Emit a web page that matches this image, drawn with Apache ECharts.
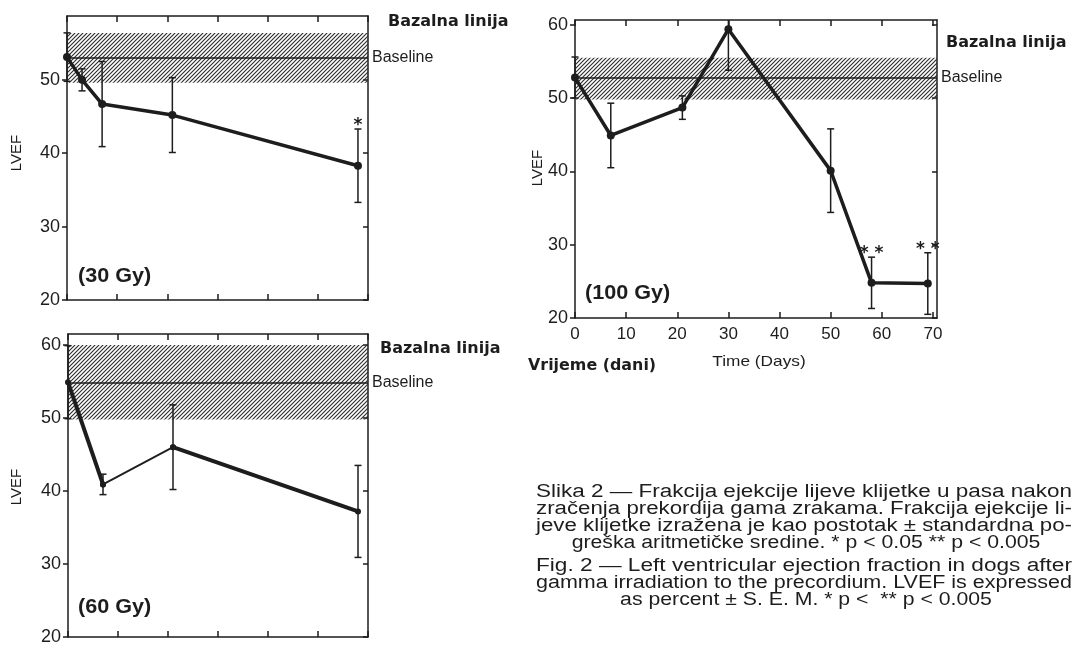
<!DOCTYPE html>
<html>
<head>
<meta charset="utf-8">
<script src="https://cdn.jsdelivr.net/npm/echarts@6/dist/echarts.min.js"></script>
<style>
html, body { margin: 0; padding: 0; background: #fff; }
#chart { width: 1075px; height: 646px; }
</style>
</head>
<body>
<div id="chart"></div>
<script>
// 30 Gy panel (top left)
const days30 = [0, 3, 7, 21, 58];
const lvef30 = [53.1, 50.0, 46.7, 45.2, 38.3];
const sem30 = [3.3, 1.5, 5.8, 5.1, 5.0];
const sig30 = ['', '', '', '', '*'];
const base30 = [49.6, 53.0, 56.4]; // low, baseline, high

// 60 Gy panel (bottom left)
const days60 = [0, 7, 21, 58];
const lvef60 = [54.9, 40.9, 46.0, 37.2];
const sem60 = [5.0, 1.4, 5.8, 6.3];
const sig60 = ['', '', '', ''];
const base60 = [49.8, 54.8, 60.0];

// 100 Gy panel (right)
const days100 = [0, 7, 21, 30, 50, 58, 69];
const lvef100 = [52.8, 44.9, 48.7, 59.4, 40.1, 24.8, 24.7];
const sem100 = [2.8, 4.4, 1.6, 5.6, 5.7, 3.5, 4.2];
const sig100 = ['', '', '', '', '', '**', '**'];
const base100 = [49.8, 52.8, 55.5];

// tick values
const xTicksLeft = [0, 10, 20, 30, 40, 50, 60];
const xTicksRight = [0, 10, 20, 30, 40, 50, 60, 70];
const yTicks30 = [20, 30, 40, 50];
const yTicks = [20, 30, 40, 50, 60];

const captionHr = [
    'Slika 2 — Frakcija ejekcije lijeve klijetke u pasa nakon',
    'zračenja prekordija gama zrakama. Frakcija ejekcije li-',
    'jeve klijetke izražena je kao postotak ± standardna po-',
    'greška aritmetičke sredine. * p < 0.05 ** p < 0.005'
];
const captionEn = [
    'Fig. 2 — Left ventricular ejection fraction in dogs after',
    'gamma irradiation to the precordium. LVEF is expressed',
    'as percent ± S. E. M. * p <  ** p < 0.005'
];

const ink = '#1d1d1d';
const sans = '"Liberation Sans", Arial, sans-serif';
const round = '"DejaVu Sans", sans-serif';

function hatch() {
    const c = document.createElement('canvas');
    c.width = 4; c.height = 4;
    const g = c.getContext('2d');
    g.strokeStyle = '#2e2e2e';
    g.lineWidth = 1.15;
    g.beginPath();
    g.moveTo(0, 4); g.lineTo(4, 0);
    g.moveTo(-1, 1); g.lineTo(1, -1);
    g.moveTo(3, 5); g.lineTo(5, 3);
    g.stroke();
    return c;
}
const hatchFill = { image: hatch(), repeat: 'repeat' };

function xAxes(i, xMax, ticks, showLabels) {
    const common = {
        gridIndex: i, type: 'value', min: 0, max: xMax, interval: 10,
        axisLine: { show: true, onZero: false, lineStyle: { color: ink, width: 1.5 } },
        axisTick: { show: true, inside: true, length: 6, customValues: ticks, lineStyle: { color: ink, width: 1.5 } },
        splitLine: { show: false }
    };
    return [
        Object.assign({}, common, {
            position: 'bottom',
            axisLabel: { show: showLabels, customValues: ticks, color: ink, fontSize: 17, fontFamily: sans, margin: 8 }
        }),
        Object.assign({}, common, { position: 'top', axisLabel: { show: false } })
    ];
}

function yAxes(i, yMax, ticks) {
    const common = {
        gridIndex: i, type: 'value', min: 20, max: yMax, interval: 10,
        axisLine: { show: true, onZero: false, lineStyle: { color: ink, width: 1.5 } },
        splitLine: { show: false }
    };
    return [
        Object.assign({}, common, {
            position: 'left',
            axisTick: { show: true, inside: false, length: 5, customValues: ticks, lineStyle: { color: ink, width: 1.5 } },
            axisLabel: { customValues: ticks, color: ink, fontSize: 18, fontFamily: sans, margin: 7 }
        }),
        Object.assign({}, common, {
            position: 'right',
            axisTick: { show: true, inside: true, length: 5, customValues: ticks, lineStyle: { color: ink, width: 1.5 } },
            axisLabel: { show: false }
        })
    ];
}

function bandSeries(i, days, vals, base) {
    return {
        type: 'line', xAxisIndex: 2 * i, yAxisIndex: 2 * i, z: 1, silent: true,
        data: days.map((d, k) => [d, vals[k]]),
        showSymbol: false, lineStyle: { opacity: 0 },
        markArea: {
            silent: true,
            itemStyle: { color: hatchFill },
            data: [[{ yAxis: base[0] }, { yAxis: base[2] }]]
        },
        markLine: {
            silent: true, symbol: 'none',
            lineStyle: { color: ink, width: 1.6, type: 'solid' },
            label: { show: true, position: 'end', formatter: 'Baseline', color: ink, fontSize: 16, fontFamily: sans, distance: 4 },
            data: [{ yAxis: base[1] }]
        }
    };
}

function errorSeries(i, days, vals, sems, sig) {
    return {
        type: 'custom', xAxisIndex: 2 * i, yAxisIndex: 2 * i, z: 3, silent: true,
        data: days.map((d, k) => [d, vals[k] - sems[k], vals[k] + sems[k]]),
        renderItem(params, api) {
            const lo = api.coord([api.value(0), api.value(1)]);
            const hi = api.coord([api.value(0), api.value(2)]);
            const cs = params.coordSys;
            const x = lo[0];
            const top = Math.max(hi[1], cs.y);
            const bottom = Math.min(lo[1], cs.y + cs.height);
            const st = { stroke: ink, lineWidth: 1.5 };
            const kids = [{ type: 'line', shape: { x1: x, y1: top, x2: x, y2: bottom }, style: st }];
            if (hi[1] >= cs.y) kids.push({ type: 'line', shape: { x1: x - 3.5, y1: top, x2: x + 3.5, y2: top }, style: st });
            if (lo[1] <= cs.y + cs.height) kids.push({ type: 'line', shape: { x1: x - 3.5, y1: bottom, x2: x + 3.5, y2: bottom }, style: st });
            const s = sig[params.dataIndex];
            if (s) {
                kids.push({
                    type: 'text', x: x, y: top + 5,
                    style: { text: s.split('').join(' '), align: 'center', verticalAlign: 'bottom', font: 'bold 17px ' + round, fill: ink }
                });
            }
            return { type: 'group', children: kids };
        }
    };
}

function lineSeries(i, pts, width, size) {
    return {
        type: 'line', xAxisIndex: 2 * i, yAxisIndex: 2 * i, z: 4, silent: true,
        data: pts, symbol: 'circle', symbolSize: size, showSymbol: true,
        lineStyle: { color: ink, width: width }, itemStyle: { color: ink }
    };
}

const pts30 = days30.map((d, k) => [d, lvef30[k]]);
const pts60 = days60.map((d, k) => [d, lvef60[k]]);
const pts100 = days100.map((d, k) => [d, lvef100[k]]);

const grids = [
    { left: 67, top: 16, width: 301, height: 284 },
    { left: 68, top: 334, width: 300, height: 306 },
    { left: 575, top: 20, width: 362, height: 298 }
];

function label(text, x, y, font, scaleX, align) {
    return {
        type: 'text', x: x, y: y, scaleX: scaleX || 1, silent: true,
        style: { text: text, font: font, fill: ink, align: align || 'left', verticalAlign: 'middle' }
    };
}

function lvefLabel(x, y) {
    return {
        type: 'text', x: x, y: y, rotation: Math.PI / 2, silent: true,
        style: { text: 'LVEF', font: '15px ' + sans, fill: ink, align: 'center', verticalAlign: 'middle' }
    };
}

// caption set justified: full lines stretched to the column width, last line natural
const capFont = '18px ' + sans;
const measureCtx = document.createElement('canvas').getContext('2d');
measureCtx.font = capFont;
function caption(lines, y0) {
    return lines.map((t, k) => {
        const last = k === lines.length - 1;
        const s = last ? 1.18 : 536 / measureCtx.measureText(t).width;
        return {
            type: 'text', x: last ? 806 : 804, y: y0 + 17 * k, scaleX: s, silent: true,
            style: { text: t, font: capFont, fill: ink, align: 'center', verticalAlign: 'top' }
        };
    });
}

const option = {
    animation: false,
    backgroundColor: '#ffffff',
    grid: grids,
    xAxis: [].concat(xAxes(0, 60, xTicksLeft, false), xAxes(1, 60, xTicksLeft, false), xAxes(2, 70.8, xTicksRight, true)),
    yAxis: [].concat(yAxes(0, 58.7, yTicks30), yAxes(1, 61.5, yTicks), yAxes(2, 60.65, yTicks)),
    series: [
        bandSeries(0, days30, lvef30, base30),
        errorSeries(0, days30, lvef30, sem30, sig30),
        lineSeries(0, pts30, 3.5, 8),

        bandSeries(1, days60, lvef60, base60),
        errorSeries(1, days60, lvef60, sem60, sig60),
        lineSeries(1, pts60.slice(0, 2), 4, 6),
        lineSeries(1, pts60.slice(1, 3), 1.8, 6),
        lineSeries(1, pts60.slice(2, 4), 4, 6),

        bandSeries(2, days100, lvef100, base100),
        errorSeries(2, days100, lvef100, sem100, sig100),
        lineSeries(2, pts100, 3.5, 8)
    ],
    graphic: [
        label('Bazalna linija', 388, 22, 'bold 16px ' + round),
        label('Bazalna linija', 380, 349, 'bold 16px ' + round),
        label('Bazalna linija', 946, 43, 'bold 16px ' + round),
        label('(30 Gy)', 78, 276, 'bold 20px ' + sans, 1.08),
        label('(60 Gy)', 78, 607, 'bold 20px ' + sans, 1.08),
        label('(100 Gy)', 585, 293, 'bold 20px ' + sans, 1.08),
        lvefLabel(17, 153),
        lvefLabel(17, 487),
        lvefLabel(538, 168),
        label('Time (Days)', 759, 362, '15px ' + sans, 1.15, 'center'),
        label('Vrijeme (dani)', 528, 366, 'bold 15px ' + round, 1.06)
    ].concat(caption(captionHr, 483), caption(captionEn, 557))
};

const myChart = echarts.init(document.getElementById('chart'));
myChart.setOption(option);
</script>
</body>
</html>
